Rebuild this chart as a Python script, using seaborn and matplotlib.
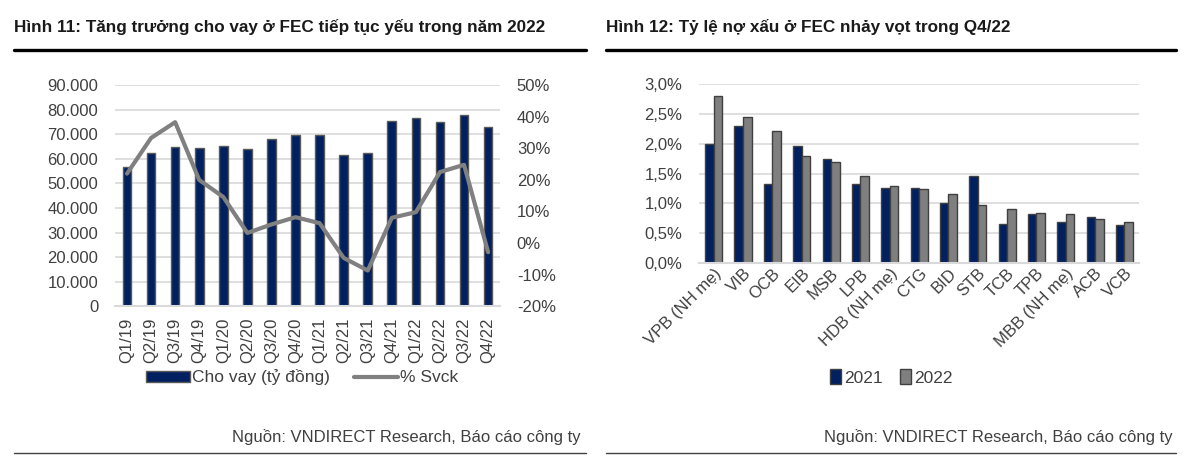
import numpy as np
import pandas as pd
import matplotlib
matplotlib.use("Agg")
import matplotlib.pyplot as plt
import matplotlib.ticker as mticker
from matplotlib.patches import Patch
from matplotlib.lines import Line2D
import seaborn as sns

# Hinh 11 - du lieu
quarters = ["Q1/19", "Q2/19", "Q3/19", "Q4/19", "Q1/20", "Q2/20", "Q3/20", "Q4/20",
            "Q1/21", "Q2/21", "Q3/21", "Q4/21", "Q1/22", "Q2/22", "Q3/22", "Q4/22"]
loans = [56900, 62300, 64900, 64500, 65300, 64100, 68200, 69900,
         69900, 61500, 62400, 75300, 76500, 74900, 77900, 73200]
growth = [0.22, 0.333, 0.383, 0.20, 0.146, 0.032, 0.059, 0.082,
          0.063, -0.047, -0.087, 0.08, 0.098, 0.225, 0.248, -0.029]

# Hinh 12 - du lieu
banks = ["VPB (NH mẹ)", "VIB", "OCB", "EIB", "MSB", "LPB", "HDB (NH mẹ)", "CTG",
         "BID", "STB", "TCB", "TPB", "MBB (NH mẹ)", "ACB", "VCB"]
npl_2021 = [0.0200, 0.0230, 0.0132, 0.0196, 0.0174, 0.0132, 0.0125, 0.0125,
            0.0100, 0.0146, 0.0065, 0.0082, 0.0068, 0.0077, 0.0063]
npl_2022 = [0.0280, 0.0245, 0.0222, 0.0179, 0.0169, 0.0146, 0.0129, 0.0124,
            0.0115, 0.0098, 0.0091, 0.0084, 0.0082, 0.0073, 0.0068]
years = ["2021", "2022"]

NAVY = "#002060"
GREY_BAR = "#7f7f7f"
LINE_GREY = "#808080"
TXT = "#404040"
GRID = "#d9d9d9"
FS = 12

sns.set_theme(style="white")
plt.rcParams["font.family"] = ["Liberation Sans", "DejaVu Sans"]
plt.rcParams["text.color"] = TXT
plt.rcParams["xtick.color"] = TXT
plt.rcParams["ytick.color"] = TXT

fig = plt.figure(figsize=(12, 4.66), dpi=100)

# ---------- Hinh 11 ----------
ax1 = fig.add_axes([0.0958, 0.343, 0.321, 0.474])
df1 = pd.DataFrame({"quy": quarters, "cho_vay": loans, "svck": growth})
sns.barplot(data=df1, x="quy", y="cho_vay", color=NAVY, width=0.36,
            edgecolor="#595959", linewidth=1, saturation=1, ax=ax1)
ax1.set_ylim(0, 90000)
ax1.yaxis.set_major_locator(mticker.MultipleLocator(10000))
ax1.yaxis.set_major_formatter(mticker.FuncFormatter(lambda v, p: f"{int(v):,}".replace(",", ".")))
ax1.grid(axis="y", color=GRID, linewidth=1.2)
ax1.set_axisbelow(True)
ax1.set_xlabel("")
ax1.set_ylabel("")
for s in ["top", "right", "left"]:
    ax1.spines[s].set_visible(False)
ax1.spines["bottom"].set_color(GRID)
ax1.spines["bottom"].set_linewidth(1.5)
ax1.tick_params(axis="y", labelsize=FS, length=0, pad=12)
ax1.tick_params(axis="x", labelsize=FS, length=0, rotation=90, pad=8)

ax2 = ax1.twinx()
sns.lineplot(data=df1, x="quy", y="svck", color=LINE_GREY, linewidth=3, sort=False, ax=ax2)
ax2.set_ylim(-0.2, 0.5)
ax2.yaxis.set_major_locator(mticker.MultipleLocator(0.1))
ax2.yaxis.set_major_formatter(mticker.FuncFormatter(lambda v, p: f"{v*100:.0f}%"))
ax2.set_ylabel("")
ax2.set_xlabel("")
for s in ["top", "right", "left", "bottom"]:
    ax2.spines[s].set_visible(False)
ax2.tick_params(axis="y", labelsize=FS, length=0, pad=12)
ax1.set_xlim(-0.5, len(quarters) - 0.5)

h1 = [Patch(facecolor=NAVY, edgecolor="#595959"), Line2D([], [], color=LINE_GREY, linewidth=3)]
fig.legend(h1, ["Cho vay (tỷ đồng)", "% Svck"], loc="center", bbox_to_anchor=(0.252, 0.19),
           ncol=2, frameon=False, fontsize=12.5, handlelength=2.5, handleheight=0.55,
           handletextpad=0.15, columnspacing=1.4)

# ---------- Hinh 12 ----------
ax3 = fig.add_axes([0.5825, 0.4356, 0.3667, 0.384])
df2 = pd.DataFrame({"ngan_hang": banks * 2,
                    "nam": [years[0]] * len(banks) + [years[1]] * len(banks),
                    "no_xau": npl_2021 + npl_2022})
sns.barplot(data=df2, x="ngan_hang", y="no_xau", hue="nam", palette=[NAVY, GREY_BAR],
            width=0.58, edgecolor="#404040", linewidth=1, saturation=1, ax=ax3, legend=False)
ax3.set_ylim(0, 0.03)
ax3.yaxis.set_major_locator(mticker.MultipleLocator(0.005))
ax3.yaxis.set_major_formatter(mticker.FuncFormatter(lambda v, p: f"{v*100:.1f}%".replace(".", ",")))
ax3.grid(axis="y", color=GRID, linewidth=1.2)
ax3.set_axisbelow(True)
ax3.set_xlabel("")
ax3.set_ylabel("")
for s in ["top", "right", "left"]:
    ax3.spines[s].set_visible(False)
ax3.spines["bottom"].set_color(GRID)
ax3.spines["bottom"].set_linewidth(1.5)
ax3.tick_params(axis="y", labelsize=FS, length=0, pad=12)
ax3.tick_params(axis="x", labelsize=FS, length=0, pad=2)
plt.setp(ax3.get_xticklabels(), rotation=45, ha="right", rotation_mode="anchor")
ax3.set_xlim(-0.5, len(banks) - 0.5)

h2 = [Patch(facecolor=NAVY, edgecolor="#404040"), Patch(facecolor=GREY_BAR, edgecolor="#404040")]
fig.legend(h2, years, loc="center", bbox_to_anchor=(0.743, 0.19), ncol=2, frameon=False,
           fontsize=12.5, handlelength=0.6, handleheight=0.9, handletextpad=0.2, columnspacing=1.0)

# ---------- tieu de, nguon, duong ke ----------
fig.text(0.012, 0.942, "Hình 11: Tăng trưởng cho vay ở FEC tiếp tục yếu trong năm 2022",
         fontsize=12.3, fontweight="bold", color="#1a1a1a", va="center")
fig.text(0.505, 0.942, "Hình 12: Tỷ lệ nợ xấu ở FEC nhảy vọt trong Q4/22",
         fontsize=12.3, fontweight="bold", color="#1a1a1a", va="center")
for x0, x1 in [(0.012, 0.488), (0.505, 0.98)]:
    fig.add_artist(Line2D([x0, x1], [0.893, 0.893], color="black", linewidth=2.4, transform=fig.transFigure))
    fig.add_artist(Line2D([x0, x1], [0.028, 0.028], color="#404040", linewidth=1.0, transform=fig.transFigure))
fig.text(0.484, 0.062, "Nguồn: VNDIRECT Research, Báo cáo công ty", fontsize=12, ha="right", va="center")
fig.text(0.977, 0.062, "Nguồn: VNDIRECT Research, Báo cáo công ty", fontsize=12, ha="right", va="center")

fig.savefig("out.png", dpi=100)
